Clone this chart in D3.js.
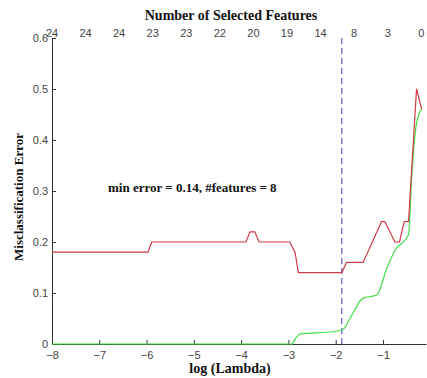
<!DOCTYPE html>
<html>
<head>
<meta charset="utf-8">
<script src="https://cdn.jsdelivr.net/npm/d3@7"></script>
<style>
  body { margin: 0; background: #fff; }
  .tick text { font-family: "Liberation Sans", Arial, sans-serif; font-size: 11px; fill: #444; }
  .lbl { font-family: "Liberation Serif", "Times New Roman", serif; font-weight: bold; fill: #111; }
</style>
</head>
<body>
<div id="chart"></div>
<script>
// cross-validated misclassification error (red)
const cvLambda = [-8, -5.97, -5.89, -3.9, -3.81, -3.71, -3.62, -2.97, -2.86, -2.79, -1.87, -1.77, -1.42, -1.03, -0.96, -0.75, -0.65, -0.55, -0.46, -0.29, -0.18];
const cvError  = [0.18, 0.18, 0.2, 0.2, 0.22, 0.22, 0.2, 0.2, 0.18, 0.14, 0.14, 0.16, 0.16, 0.24, 0.24, 0.2, 0.2, 0.24, 0.24, 0.5, 0.46];

// training error (green)
const trLambda = [-8, -2.93, -2.84, -2.75, -2.05, -1.84, -1.7, -1.42, -1.13, -0.92, -0.75, -0.46, -0.39, -0.29, -0.18];
const trError  = [0, 0, 0.012, 0.02, 0.024, 0.029, 0.05, 0.09, 0.096, 0.148, 0.183, 0.214, 0.33, 0.433, 0.462];

// number of selected features along the top
const topLambda = [-8, -7.29, -6.58, -5.87, -5.16, -4.45, -3.74, -3.03, -2.32, -1.61, -0.9, -0.19];
const topLabels = ["24", "24", "24", "23", "23", "22", "20", "19", "14", "8", "3", "0"];

const xTicks = [-8, -7, -6, -5, -4, -3, -2, -1];
const yTicks = [0, 0.1, 0.2, 0.3, 0.4, 0.5, 0.6];
const bestLambda = -1.87;

const W = 427, H = 378;
const margin = { top: 38, right: 1, bottom: 34, left: 52 };

const svg = d3.select("#chart").append("svg")
  .attr("width", W)
  .attr("height", H);

const x = d3.scaleLinear().domain([-8, -0.09]).range([margin.left, W - margin.right]);
const y = d3.scaleLinear().domain([0, 0.6]).range([H - margin.bottom, margin.top]);

// axes, ticks pointing inward
const xAxis = svg.append("g")
  .attr("transform", `translate(0,${y(0)})`)
  .call(d3.axisBottom(x).tickValues(xTicks).tickSizeInner(-4).tickSizeOuter(0).tickPadding(7));
const yAxis = svg.append("g")
  .attr("transform", `translate(${x(-8)},0)`)
  .call(d3.axisLeft(y).tickValues(yTicks).tickFormat(d => d === 0 ? "0" : d3.format(".1f")(d)).tickSizeInner(-4).tickSizeOuter(0).tickPadding(4));
[xAxis, yAxis].forEach(a => {
  a.select(".domain").attr("stroke", "#333");
  a.selectAll(".tick line").attr("stroke", "#333");
});

// top labels
svg.append("g").selectAll("text")
  .data(topLambda)
  .join("text")
  .attr("class", "tick-top")
  .attr("x", d => x(d))
  .attr("y", 37)
  .attr("text-anchor", "middle")
  .style("font-family", "Liberation Sans, Arial, sans-serif")
  .style("font-size", "11px")
  .style("fill", "#444")
  .text((d, i) => topLabels[i]);

// chosen lambda
svg.append("line")
  .attr("x1", x(bestLambda)).attr("x2", x(bestLambda))
  .attr("y1", y(0.6)).attr("y2", y(0))
  .attr("stroke", "#3b3bd0")
  .attr("stroke-width", 1)
  .attr("stroke-dasharray", "6,4");

// training error
svg.append("path")
  .datum(trLambda.map((d, i) => [d, trError[i]]))
  .attr("fill", "none")
  .attr("stroke", "#44dd44")
  .attr("stroke-width", 1.2)
  .attr("d", d3.line().x(d => x(d[0])).y(d => y(d[1])).curve(d3.curveMonotoneX));

// cv error
svg.append("path")
  .datum(cvLambda.map((d, i) => [d, cvError[i]]))
  .attr("fill", "none")
  .attr("stroke", "#d23a48")
  .attr("stroke-width", 1.2)
  .attr("d", d3.line().x(d => x(d[0])).y(d => y(d[1])));

// titles
svg.append("text").attr("class", "lbl")
  .attr("x", 231).attr("y", 20)
  .attr("text-anchor", "middle").style("font-size", "14px")
  .text("Number of Selected Features");
svg.append("text").attr("class", "lbl")
  .attr("x", 230).attr("y", 373)
  .attr("text-anchor", "middle").style("font-size", "14px")
  .text("log (Lambda)");
svg.append("text").attr("class", "lbl")
  .attr("transform", "translate(23,197) rotate(-90)")
  .attr("text-anchor", "middle").style("font-size", "13px")
  .text("Misclassification Error");
svg.append("text").attr("class", "lbl")
  .attr("x", 108).attr("y", 192)
  .style("font-size", "13px")
  .text("min error = 0.14, #features = 8");
</script>
</body>
</html>
